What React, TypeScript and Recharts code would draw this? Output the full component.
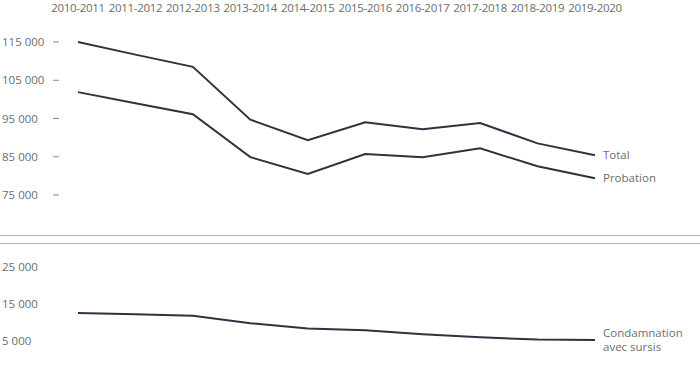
import { Line, LineChart, XAxis, YAxis, LabelList } from "recharts";

const YEARS = [
  "2010-2011", "2011-2012", "2012-2013", "2013-2014", "2014-2015",
  "2015-2016", "2016-2017", "2017-2018", "2018-2019", "2019-2020",
];
const TOTAL = [115000, 111700, 108500, 94700, 89300, 94000, 92200, 93800, 88500, 85400];
const PROBATION = [101900, 99000, 96100, 84900, 80500, 85700, 84900, 87200, 82500, 79400];
const SURSIS = [12600, 12200, 11800, 9800, 8400, 7900, 6800, 6000, 5400, 5300];

const TOP_TICKS = [75000, 85000, 95000, 105000, 115000];
const BOTTOM_TICKS = [5000, 15000, 25000];

const topData = YEARS.map((year, i) => ({ year, total: TOTAL[i], probation: PROBATION[i] }));
const bottomData = YEARS.map((year, i) => ({ year, sursis: SURSIS[i] }));

const FONT = "'Open Sans', sans-serif";
const TEXT = "#6d6d6d";
const INK = "#2c3341";
const SIZE = 11.5;
const fmt = (v: number) => v.toLocaleString("fr-FR").replace(/\u202f|\u00a0/g, " ");

function YTick({ y, payload, dash }: any) {
  return (
    <g>
      <text x={2} y={y} dy={4} fill={TEXT} fontSize={SIZE} fontFamily={FONT} textAnchor="start">
        {fmt(payload.value)}
      </text>
      {dash && <line x1={53} x2={59} y1={y} y2={y} stroke="#8a8a8a" strokeWidth={1} />}
    </g>
  );
}

function XTick({ x, payload }: any) {
  return (
    <text x={x} y={12} fill={TEXT} fontSize={SIZE} fontFamily={FONT} textAnchor="middle" letterSpacing={-0.3}>
      {payload.value}
    </text>
  );
}

function endLabel(lines: string[]) {
  return (props: any) => {
    const { x, y, index } = props;
    if (index !== YEARS.length - 1) return null;
    const off = lines.length > 1 ? -7 : 0;
    return (
      <text x={x + 8} y={y + off} fill={TEXT} fontSize={SIZE} fontFamily={FONT}>
        {lines.map((l, i) => (
          <tspan key={i} x={x + 8} dy={i === 0 ? 4 : 14}>
            {l}
          </tspan>
        ))}
      </text>
    );
  };
}

export default function App() {
  return (
    <div style={{ position: "absolute", left: 0, top: 0, width: 700, height: 372, background: "#fff" }}>
      <div style={{ position: "absolute", left: 0, top: 0 }}>
        <LineChart width={700} height={236} data={topData} margin={{ top: 12, right: 105, left: 0, bottom: 41 }}>
          <XAxis
            dataKey="year"
            orientation="top"
            height={30}
            axisLine={false}
            tickLine={false}
            interval={0}
            tick={<XTick />}
            padding={{ left: 0, right: 0 }}
          />
          <YAxis
            width={78}
            domain={[75000, 115000]}
            ticks={TOP_TICKS}
            axisLine={false}
            tickLine={false}
            tick={<YTick dash />}
          />
          <Line dataKey="total" stroke={INK} strokeWidth={2} dot={false} isAnimationActive={false}>
            <LabelList dataKey="total" content={endLabel(["Total"])} />
          </Line>
          <Line dataKey="probation" stroke={INK} strokeWidth={2} dot={false} isAnimationActive={false}>
            <LabelList dataKey="probation" content={endLabel(["Probation"])} />
          </Line>
        </LineChart>
      </div>
      <div style={{ position: "absolute", left: 0, top: 235, width: 700, borderTop: "1.5px solid #b4b4b4" }} />
      <div style={{ position: "absolute", left: 0, top: 243, width: 700, borderTop: "1.5px solid #b4b4b4" }} />
      <div style={{ position: "absolute", left: 0, top: 245 }}>
        <LineChart width={700} height={127} data={bottomData} margin={{ top: 22, right: 105, left: 0, bottom: 31 }}>
          <XAxis dataKey="year" hide padding={{ left: 0, right: 0 }} />
          <YAxis
            width={78}
            domain={[5000, 25000]}
            ticks={BOTTOM_TICKS}
            axisLine={false}
            tickLine={false}
            tick={<YTick />}
          />
          <Line dataKey="sursis" stroke={INK} strokeWidth={2} dot={false} isAnimationActive={false}>
            <LabelList dataKey="sursis" content={endLabel(["Condamnation", "avec sursis"])} />
          </Line>
        </LineChart>
      </div>
    </div>
  );
}
